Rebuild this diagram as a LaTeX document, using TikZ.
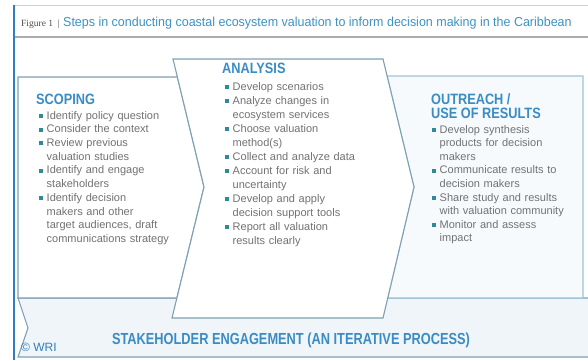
\documentclass[tikz,border=0pt]{standalone}
\usepackage{fontspec}
\setmainfont{Liberation Sans}
\newfontfamily\hd[FakeStretch=0.85]{Liberation Sans}
\newfontfamily\bandf[FakeStretch=0.80]{Liberation Sans}
\newfontfamily\titf[FakeStretch=0.96]{Liberation Sans}
\newfontfamily\figf{Liberation Serif}
\definecolor{hblue}{HTML}{3B8CC4}
\definecolor{tblue}{HTML}{3A93C6}
\definecolor{lblue}{HTML}{2F7FC0}
\definecolor{bul}{HTML}{2E8A96}
\definecolor{txt}{HTML}{727272}
\definecolor{edge}{HTML}{7F9FB3}
\definecolor{oedge}{HTML}{9CC3D9}
\definecolor{ofill}{HTML}{F6FAFD}
\definecolor{bfill}{HTML}{EFF5F9}
\definecolor{topline}{HTML}{C3D5E2}
\newcommand\bi[1]{\noindent\makebox[7.5pt][l]{\textcolor{bul}{\rule[1.3pt]{4pt}{4pt}}}\begin{tabular}[t]{@{}l@{}}#1\end{tabular}\par}
\newcommand\nolskip{\lineskiplimit=-5pt\relax\lineskip=0pt\relax}
\tikzset{
  boxline/.style={draw=edge, line width=1.1pt, line join=miter},
  head/.style={anchor=base west, inner sep=0pt, text=hblue, font=\hd\bfseries\fontsize{15}{14}\selectfont, align=left},
  itemlist/.style={anchor=north west, inner sep=0pt, text=txt, text width=150pt, align=left}
}
\begin{document}
\begin{tikzpicture}[x=1pt,y=-1pt]
\useasboundingbox (0,0) rectangle (588,360);
% frame
\draw[topline, line width=1pt] (14,5) -- (588,5);
\draw[gray!65, line width=1.4pt] (14,37) -- (588,37);
% title
\node[anchor=base west, inner sep=0pt, text=black!70, font=\figf\fontsize{9.5}{10}\selectfont] (figlab) at (21,26) {Figure 1 \ \textbar};
\node[anchor=base west, inner sep=0pt, text=tblue, font=\titf\fontsize{13}{13}\selectfont] (title) at (63,26) {Steps in conducting coastal ecosystem valuation to inform decision making in the Caribbean};
% band
\draw[boxline, fill=bfill] (18,298) -- (28,328) -- (18,357) -- (592,357) -- (592,298) -- cycle;
% scoping
\draw[boxline, fill=white] (18,77) -- (177.4,77) -- (204,187) -- (176.9,298) -- (18,298) -- cycle;
% outreach
\draw[boxline, draw=oedge, fill=ofill] (387.1,76) -- (583,76) -- (583,298) -- (387.7,298) -- (414,187) -- cycle;
% analysis
\draw[boxline, fill=white] (173,59) -- (383,59) -- (414,187) -- (383,318) -- (172,318) -- (204,187) -- cycle;
\draw[lblue, line width=1.5pt] (14,5) -- (14,360);
% headings
\node[head] (hscop) at (36,104) {SCOPING};
\node[head] (hanal) at (222,73) {ANALYSIS};
\node[head] (hout) at (431,104) {OUTREACH /};
\node[head] (hout2) at (431,118) {USE OF RESULTS};
% lists
\node[itemlist, font=\fontsize{11}{13.7}\selectfont] (lscop) at (39,109.4) {\nolskip
\bi{Identify policy question}
\bi{Consider the context}
\bi{Review previous\\ valuation studies}
\bi{Identify and engage\\ stakeholders}
\bi{Identify decision\\ makers and other\\ target audiences, draft\\ communications strategy}};
\node[itemlist, font=\fontsize{11}{14}\selectfont] (lanal) at (225,80.4) {\nolskip
\bi{Develop scenarios}
\bi{Analyze changes in\\ ecosystem services}
\bi{Choose valuation\\ method(s)}
\bi{Collect and analyze data}
\bi{Account for risk and\\ uncertainty}
\bi{Develop and apply\\ decision support tools}
\bi{Report all valuation\\ results clearly}};
\node[itemlist, font=\fontsize{11}{13.6}\selectfont] (lout) at (432,123.4) {\nolskip
\bi{Develop synthesis\\ products for decision\\ makers}
\bi{Communicate results to\\ decision makers}
\bi{Share study and results\\ with valuation community}
\bi{Monitor and assess\\ impact}};
% band text
\node[anchor=base, inner sep=0pt, text=hblue, font=\bandf\bfseries\fontsize{16}{16}\selectfont] (band) at (291,344) {STAKEHOLDER ENGAGEMENT (AN ITERATIVE PROCESS)};
\node[anchor=base west, inner sep=0pt, text=lblue, font=\fontsize{12}{12}\selectfont] (wri) at (21,351) {© WRI};
\end{tikzpicture}
\end{document}
